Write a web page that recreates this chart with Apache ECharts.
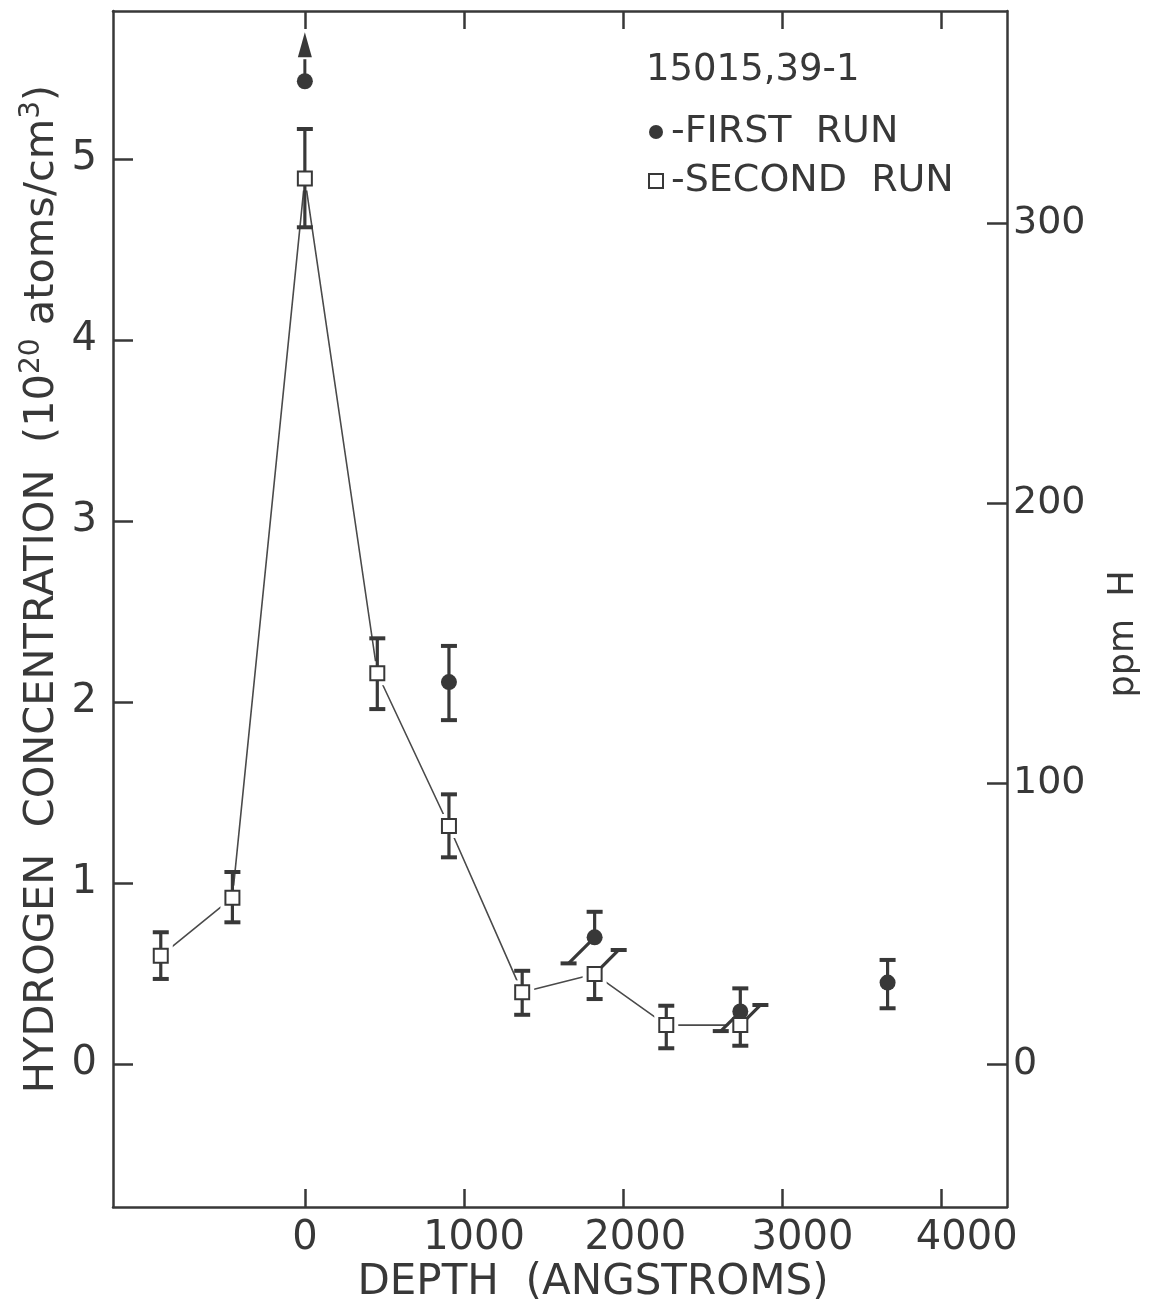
<!DOCTYPE html>
<html>
<head>
<meta charset="utf-8">
<script src="https://cdn.jsdelivr.net/npm/echarts@6/dist/echarts.min.js"></script>
<style>
  html, body { margin: 0; padding: 0; background: #ffffff; }
  #chart { width: 1159px; height: 1306px; }
</style>
</head>
<body>
<div id="chart"></div>
<script>
// Hydrogen depth profile of sample 15015,39-1 (two runs)

const depthTicks = [0, 1000, 2000, 3000, 4000];
const concTicks = [0, 1, 2, 3, 4, 5];
const ppmTicks = [0, 100, 200, 300];

// First run: filled circles, not joined
const firstDepth = [0, 905, 1820, 2735, 3660];
const firstConc  = [5.43, 2.11, 0.70, 0.29, 0.45];
const firstLow   = [null, 1.90, 0.556, 0.182, 0.308];
const firstHigh  = [null, 2.31, 0.841, 0.418, 0.575];
const firstLowerLimit = [true, false, false, false, false];

// Second run: open squares, joined by a line
const secondDepth = [-905, -455, 0, 455, 905, 1365, 1820, 2270, 2735];
const secondConc  = [0.598, 0.919, 4.893, 2.159, 1.315, 0.396, 0.497, 0.215, 0.215];
const secondLow   = [0.470, 0.783, 4.623, 1.961, 1.142, 0.272, 0.359, 0.087, 0.101];
const secondHigh  = [0.728, 1.061, 5.166, 2.352, 1.490, 0.515, 0.630, 0.322, 0.326];

// Axis extents
const DEPTH_MIN = -1205, DEPTH_MAX = 4410;
const CONC_MIN = -0.79, CONC_MAX = 5.818;
const PPM_PER_UNIT = 64.55;   // 1e20 atoms/cm3 expressed as ppm H

const INK = '#383838';
const FONT = 'DejaVu Sans';

// small horizontal nudges for the hand-lettered depth labels
const tickNudge = { 0: 0, 1000: 10, 2000: 12, 3000: 20, 4000: 25 };

// Where both runs share a depth and their bars overlap, the first run's
// lower bar is bent to the left and the second run's upper bar to the right.
function overlapAt(depth) {
  const i = firstDepth.indexOf(depth);
  const j = secondDepth.indexOf(depth);
  if (i < 0 || j < 0 || firstLow[i] == null) return false;
  return firstLow[i] < secondHigh[j] && secondLow[j] < firstHigh[i];
}

const errorData = [];
firstDepth.forEach((d, i) => {
  if (firstLow[i] == null) return;
  errorData.push([d, firstConc[i], firstLow[i], firstHigh[i], overlapAt(d) ? -1 : 0, 0]);
});
secondDepth.forEach((d, i) => {
  errorData.push([d, secondConc[i], secondLow[i], secondHigh[i], 0, overlapAt(d) ? 1 : 0]);
});

const limitData = firstDepth
  .map((d, i) => firstLowerLimit[i] ? [d, firstConc[i]] : null)
  .filter(Boolean);

function renderErrorBar(params, api) {
  const x = api.value(0), y = api.value(1);
  const c = api.coord([x, y]);
  const lo = api.coord([x, api.value(2)]);
  const hi = api.coord([x, api.value(3)]);
  const bendLo = api.value(4), bendHi = api.value(5);
  const children = [];
  const capHalf = 8;
  function arm(end, bend) {
    const dy = end[1] - c[1];
    const ex = bend ? c[0] + bend * Math.abs(dy) : c[0];
    children.push({ type: 'line', shape: { x1: c[0], y1: c[1], x2: ex, y2: end[1] },
      style: { stroke: INK, lineWidth: 3.2 } });
    children.push({ type: 'line', shape: { x1: ex - capHalf, y1: end[1], x2: ex + capHalf, y2: end[1] },
      style: { stroke: INK, lineWidth: 4 } });
  }
  arm(lo, bendLo);
  arm(hi, bendHi);
  return { type: 'group', children };
}

// upward arrow marking a value that is only a lower limit
function renderLimitArrow(params, api) {
  const c = api.coord([api.value(0), api.value(1)]);
  const tip = c[1] - 49, base = c[1] - 24;
  return {
    type: 'group',
    children: [
      { type: 'line', shape: { x1: c[0], y1: c[1], x2: c[0], y2: base + 2 },
        style: { stroke: INK, lineWidth: 3 } },
      { type: 'polygon', shape: { points: [[c[0], tip], [c[0] - 7, base], [c[0] + 7, base]] },
        style: { fill: INK } }
    ]
  };
}

const depthRich = {};
depthTicks.forEach(v => {
  depthRich['t' + v] = { fontFamily: FONT, fontSize: 40, color: INK, padding: [0, 0, 0, 2 * tickNudge[v]] };
});

const baseAxisLine = { show: true, onZero: false, lineStyle: { color: INK, width: 2.5 } };

const option = {
  backgroundColor: '#ffffff',
  animation: false,
  textStyle: { fontFamily: FONT },
  title: {
    text: '15015,39-1',
    left: 641, top: 47,
    textStyle: { fontFamily: FONT, fontSize: 37, fontWeight: 'normal', color: INK }
  },
  legend: {
    orient: 'vertical',
    left: 643, top: 108,
    itemGap: 11,
    itemWidth: 14, itemHeight: 14,
    selectedMode: false,
    data: [{ name: 'FIRST RUN', icon: 'circle' }, { name: 'SECOND RUN', icon: 'rect' }],
    formatter: n => '-' + n.replace(' ', '  '),
    textStyle: { fontFamily: FONT, fontSize: 38, color: INK, padding: [0, 0, 0, 3] }
  },
  grid: { left: 113, right: 152, top: 11, bottom: 99, outerBoundsMode: 'none', containLabel: false },
  xAxis: [
    {
      type: 'value', position: 'bottom', min: DEPTH_MIN, max: DEPTH_MAX,
      axisLine: baseAxisLine,
      axisTick: { show: true, inside: true, length: 18, customValues: depthTicks,
        lineStyle: { color: INK, width: 2.5 } },
      axisLabel: { show: true, customValues: depthTicks, margin: 12,
        formatter: v => '{t' + v + '|' + v + '}', rich: depthRich },
      splitLine: { show: false },
      name: 'DEPTH  (ANGSTROMS)', nameLocation: 'middle', nameGap: 55, nameMoveOverlap: false,
      nameTextStyle: { fontFamily: FONT, fontSize: 42, color: INK, padding: [0, 0, 0, 66] }
    },
    {
      type: 'value', position: 'top', min: DEPTH_MIN, max: DEPTH_MAX,
      axisLine: baseAxisLine,
      axisTick: { show: true, inside: true, length: 18, customValues: depthTicks,
        lineStyle: { color: INK, width: 2.5 } },
      axisLabel: { show: false },
      splitLine: { show: false }
    }
  ],
  yAxis: [
    {
      type: 'value', position: 'left', min: CONC_MIN, max: CONC_MAX,
      axisLine: baseAxisLine,
      axisTick: { show: true, inside: true, length: 20, customValues: concTicks,
        lineStyle: { color: INK, width: 2.5 } },
      axisLabel: { show: true, customValues: concTicks, margin: 16,
        fontFamily: FONT, fontSize: 40, color: INK },
      splitLine: { show: false },
      name: '{n|HYDROGEN  CONCENTRATION  (10}{s|20}{n| atoms/cm}{s|3}{n|)}',
      nameLocation: 'middle', nameGap: 47, nameMoveOverlap: false,
      nameTextStyle: {
        color: INK, padding: [0, 0, 0, 40],
        rich: {
          n: { fontFamily: FONT, fontSize: 41.5, color: INK, lineHeight: 48 },
          s: { fontFamily: FONT, fontSize: 28, color: INK, lineHeight: 26, verticalAlign: 'top' }
        }
      }
    },
    {
      type: 'value', position: 'right',
      min: CONC_MIN * PPM_PER_UNIT, max: CONC_MAX * PPM_PER_UNIT,
      axisLine: baseAxisLine,
      axisTick: { show: true, inside: true, length: 20, customValues: ppmTicks,
        lineStyle: { color: INK, width: 2.5 } },
      axisLabel: { show: true, customValues: ppmTicks, margin: 6,
        fontFamily: FONT, fontSize: 38, color: INK },
      splitLine: { show: false },
      name: 'ppm  H', nameLocation: 'middle', nameGap: 99, nameRotate: 90, nameMoveOverlap: false,
      nameTextStyle: { fontFamily: FONT, fontSize: 35, color: INK, padding: [0, 50, 0, 0] }
    }
  ],
  series: [
    {
      name: 'second-run-trace',
      type: 'line',
      silent: true,
      z: 1,
      data: secondDepth.map((d, i) => [d, secondConc[i]]),
      symbol: 'rect', symbolSize: 24, showSymbol: true,
      itemStyle: { color: '#ffffff', borderWidth: 0 },
      lineStyle: { color: '#4a4a4a', width: 1.6 },
      emphasis: { disabled: true }
    },
    {
      name: 'error-bars',
      type: 'custom',
      silent: true,
      z: 2,
      renderItem: renderErrorBar,
      encode: { x: 0, y: 1 },
      data: errorData
    },
    {
      name: 'lower-limit',
      type: 'custom',
      silent: true,
      z: 2,
      renderItem: renderLimitArrow,
      encode: { x: 0, y: 1 },
      data: limitData
    },
    {
      name: 'FIRST RUN',
      type: 'scatter',
      z: 3,
      symbol: 'circle', symbolSize: 16,
      itemStyle: { color: INK, opacity: 1 },
      data: firstDepth.map((d, i) => [d, firstConc[i]])
    },
    {
      name: 'SECOND RUN',
      type: 'scatter',
      z: 3,
      symbol: 'rect', symbolSize: 14,
      itemStyle: { color: '#ffffff', borderColor: INK, borderWidth: 2, opacity: 1 },
      data: secondDepth.map((d, i) => [d, secondConc[i]])
    }
  ]
};

const chart = echarts.init(document.getElementById('chart'), null, { renderer: 'canvas' });
chart.setOption(option);
</script>
</body>
</html>
